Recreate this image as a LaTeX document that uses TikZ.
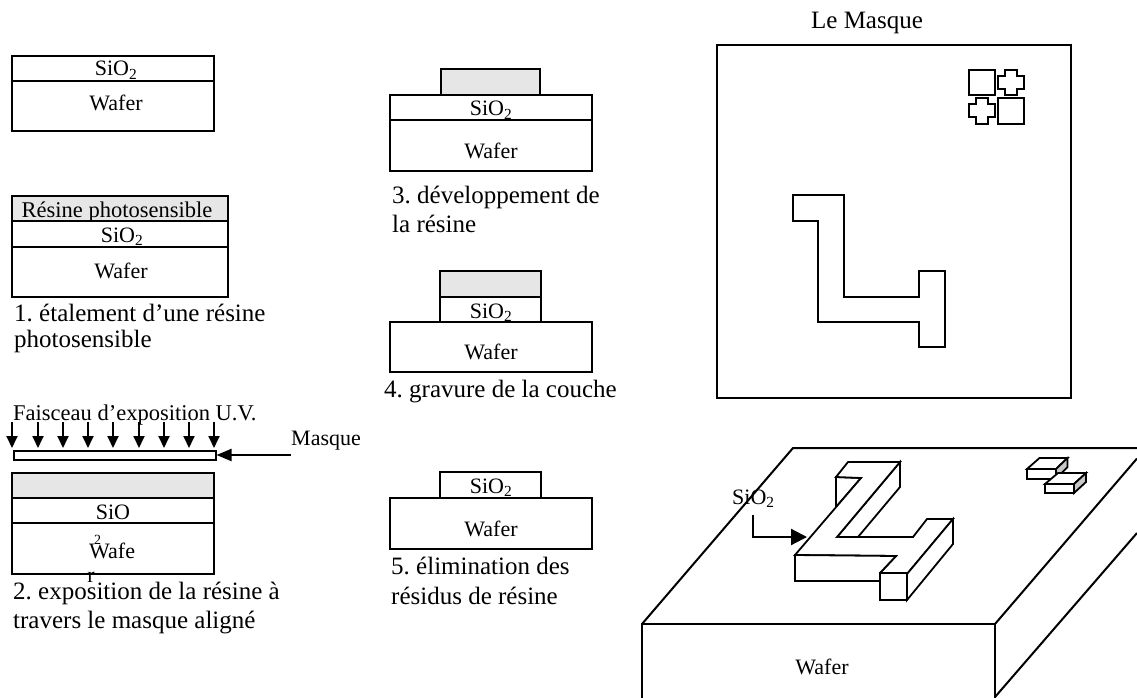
\documentclass[tikz,border=0pt]{standalone}
\usepackage{fontspec}
\setmainfont{Liberation Serif}
\usetikzlibrary{arrows.meta}
\definecolor{resist}{HTML}{E6E6E6}
\definecolor{sidegray}{HTML}{C8C8C8}
\tikzset{
  ln/.style={draw=black,line width=2pt,line join=miter},
  thin3d/.style={draw=black,line width=1.8pt,line join=miter,fill=white},
  res/.style={ln,fill=resist},
  lbl/.style={anchor=base,inner sep=0pt,font=\fontsize{22}{26}\selectfont\frenchspacing},
  captxt/.style={anchor=base west,inner sep=0pt,font=\fontsize{25}{29}\selectfont\frenchspacing},
  uv/.style={draw=black,line width=1.8pt,-{Triangle[length=12pt,width=11pt]}},
  bigarrow/.style={draw=black,line width=2.2pt,-{Triangle[length=16pt,width=16pt]}},
  maskarrow/.style={draw=black,line width=2pt,-{Triangle[length=15pt,width=12pt]}}
}
\newcommand{\sio}{SiO\textsubscript{2}}
\begin{document}
\begin{tikzpicture}[x=1pt,y=-1pt]
\useasboundingbox (0,0) rectangle (1137,698);
\fill[white] (0,0) rectangle (1137,698);
% Initial stack
\draw[ln] (12,56) rectangle (214,81);
\draw[ln] (12,81) rectangle (214,131);
\node[lbl] (t0s) at (116,76) {\sio};
\node[lbl] (t0w) at (116,111) {Wafer};
% Step 1
\draw[res] (12,196) rectangle (228,221);
\draw[ln] (12,221) rectangle (228,247);
\draw[ln] (12,247) rectangle (228,297);
\node[lbl,font=\fontsize{22.5}{26}\selectfont] (t1r) at (117,217) {Résine photosensible};
\node[lbl] (t1s) at (122,242) {\sio};
\node[lbl] (t1w) at (121,278) {Wafer};
\node[captxt] (c1a) at (14,321) {1. étalement d’une résine};
\node[captxt] (c1b) at (14,347) {photosensible};
% Step 2
\node[lbl,anchor=base west,font=\fontsize{22.5}{26}\selectfont\frenchspacing] (uvt) at (13,420) {Faisceau d’exposition U.V.};
\foreach \x/\n in {12/a,38/b,63/c,88/d,113/e,139/f,164/g,189/h,214/i}{
  \coordinate (u\n) at (\x,422);
  \coordinate (v\n) at (\x,448);
  \draw[uv] (u\n) -- (v\n);
}
\draw[ln] (13.5,451) rectangle (216,460);
\coordinate (mr) at (216.5,455);
\node[lbl,anchor=base west] (mt) at (291,445) {Masque};
\coordinate (ms) at (291,455);
\draw[maskarrow] (ms) -- (mr);
\draw[res] (12,473) rectangle (214,498);
\draw[ln] (12,498) rectangle (214,523);
\draw[ln] (12,523) rectangle (214,574);
\node[lbl] (t2s) at (113,519) {SiO};
\node[lbl,anchor=base west] (t2w) at (89,558) {Wafe};
\node[lbl,font=\fontsize{14}{16}\selectfont] (t2n) at (97.5,544) {2};
\node[lbl] (t2r) at (91,582) {r};
\node[captxt] (c2a) at (13,599) {2. exposition de la résine à};
\node[captxt] (c2b) at (13,628) {travers le masque aligné};
% Step 3
\draw[res] (441,69) rectangle (540,95);
\draw[ln] (390,95) rectangle (592,120);
\draw[ln] (390,120) rectangle (592,171);
\node[lbl] (t3s) at (491,116) {\sio};
\node[lbl] (t3w) at (491,158) {Wafer};
\node[captxt] (c3a) at (392,203) {3. développement de};
\node[captxt] (c3b) at (392,232) {la résine};
% Step 4
\draw[res] (440,271) rectangle (541,297);
\draw[ln] (440,297) rectangle (541,322);
\draw[ln] (390,322) rectangle (592,372);
\node[lbl] (t4s) at (491,318) {\sio};
\node[lbl] (t4w) at (491,359) {Wafer};
\node[captxt] (c4a) at (384,397) {4. gravure de la couche};
% Step 5
\draw[ln] (440,472) rectangle (541,498);
\draw[ln] (390,498) rectangle (592,549);
\node[lbl] (t5s) at (491,493) {\sio};
\node[lbl] (t5w) at (491,536) {Wafer};
\node[captxt] (c5a) at (391,574) {5. élimination des};
\node[captxt] (c5b) at (391,604) {résidus de résine};
% Mask
\node[lbl,font=\fontsize{25}{29}\selectfont] (lm) at (867,29) {Le Masque};
\draw[ln] (717,45) rectangle (1071,398);
\draw[ln] (969,70) rectangle (995,95);
\draw[ln] (998,98) rectangle (1024,124);
\draw[ln] (1005,70) -- (1017,70) -- (1017,76.5) -- (1024,76.5) -- (1024,89) -- (1017,89) -- (1017,95) -- (1005,95) -- (1005,89) -- (998,89) -- (998,76.5) -- (1005,76.5) -- cycle;
\draw[ln] (976,98) -- (988,98) -- (988,104.5) -- (995,104.5) -- (995,117) -- (988,117) -- (988,124) -- (976,124) -- (976,117) -- (969,117) -- (969,104.5) -- (976,104.5) -- cycle;
\draw[ln] (793,195) -- (844,195) -- (844,297) -- (919,297) -- (919,271) -- (945,271) -- (945,347) -- (919,347) -- (919,322) -- (818,322) -- (818,221) -- (793,221) -- cycle;
% Wafer 3D
\draw[ln] (642,624) -- (793,448) -- (1137,448);
\draw[ln] (642,698) -- (642,624) -- (995,624) -- (995,698);
\draw[ln] (995,624) -- (1137,458.5);
\draw[ln] (995,697) -- (1137,533);
\node[lbl] (wf) at (822,674) {Wafer};
% Z: hidden faces first
\draw[thin3d] (836,477) -- (861,478) -- (836,507) -- cycle;
\draw[thin3d] (900,462) -- (900,487) -- (858,537) -- (837,537) -- cycle;
% Z: top face
\draw[thin3d] (795,555) -- (861,478) -- (836,477) -- (848,462) -- (900,462) -- (837,537) -- (913,537) -- (927,519) -- (953,519) -- (907,574) -- (880,573) -- (896,556) -- cycle;
% Z: front faces
\draw[thin3d] (795,555) -- (896,556) -- (880,573) -- (880,581) -- (795,581) -- cycle;
\draw[thin3d] (907,574) -- (953,519) -- (953,544) -- (907,600) -- cycle;
\draw[thin3d] (880,573) rectangle (907,600);
% small blocks
\draw[thin3d] (1027,469) -- (1039.5,458) -- (1067.5,458) -- (1056,469) -- cycle;
\draw[thin3d,fill=sidegray] (1056,469) -- (1067.5,458) -- (1067.5,467) -- (1056,479) -- cycle;
\draw[thin3d] (1027,469) rectangle (1056,479);
\draw[thin3d] (1045,484) -- (1058,473) -- (1086,473) -- (1074,484) -- cycle;
\draw[thin3d,fill=sidegray] (1074,484) -- (1086,473) -- (1086,482) -- (1074,493) -- cycle;
\draw[thin3d] (1045,484) rectangle (1074,493);
% SiO2 arrow
\node[lbl,anchor=base west] (st) at (732,504) {\sio};
\coordinate (sa) at (753,515);
\coordinate (sb) at (807,537);
\draw[bigarrow] (sa) |- (sb);
\end{tikzpicture}
\end{document}
